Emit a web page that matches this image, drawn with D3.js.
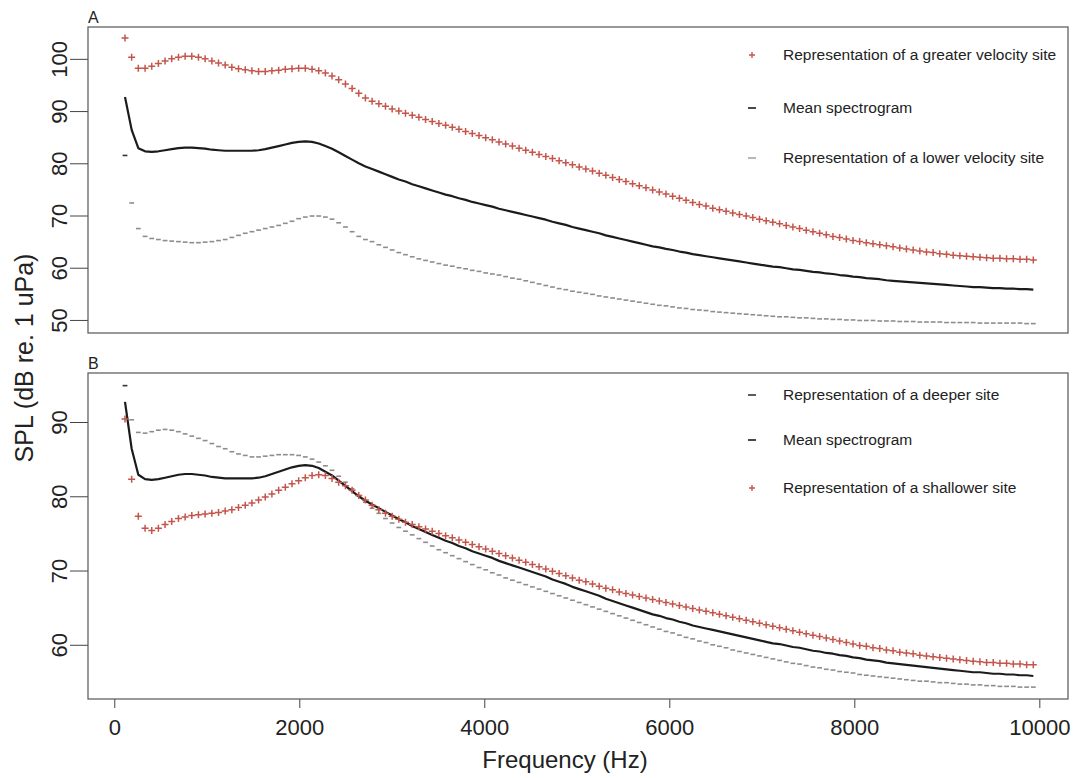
<!DOCTYPE html>
<html>
<head>
<meta charset="utf-8">
<script src="https://cdn.jsdelivr.net/npm/d3@7"></script>
<style>
  body { margin: 0; background: #fff; }
  svg { display: block; }
  text { font-family: "Liberation Sans", Arial, Helvetica, sans-serif; fill: #222; }
</style>
</head>
<body>
<svg id="chart" width="1078" height="778"></svg>
<script>
"use strict";

// frequency bins (Hz)
var freqHz = [116, 188, 260, 333, 405, 477, 549, 621, 694, 766,
    838, 910, 982, 1055, 1127, 1199, 1271, 1343, 1416, 1488,
    1560, 1632, 1704, 1777, 1849, 1921, 1993, 2065, 2138, 2210,
    2282, 2354, 2426, 2499, 2571, 2643, 2715, 2787, 2860, 2932,
    3004, 3076, 3148, 3221, 3293, 3365, 3437, 3509, 3582, 3654,
    3726, 3798, 3870, 3943, 4015, 4087, 4159, 4231, 4304, 4376,
    4448, 4520, 4592, 4665, 4737, 4809, 4881, 4953, 5026, 5098,
    5170, 5242, 5314, 5387, 5459, 5531, 5603, 5675, 5748, 5820,
    5892, 5964, 6036, 6109, 6181, 6253, 6325, 6397, 6470, 6542,
    6614, 6686, 6758, 6831, 6903, 6975, 7047, 7119, 7192, 7264,
    7336, 7408, 7480, 7553, 7625, 7697, 7769, 7841, 7914, 7986,
    8058, 8130, 8202, 8275, 8347, 8419, 8491, 8563, 8636, 8708,
    8780, 8852, 8924, 8997, 9069, 9141, 9213, 9285, 9358, 9430,
    9502, 9574, 9646, 9719, 9791, 9863, 9935];

var meanSpl = [92.7, 86.4, 82.9, 82.3, 82.2, 82.3, 82.5, 82.7, 82.9, 83.0,
    83.0, 82.9, 82.8, 82.6, 82.5, 82.4, 82.4, 82.4, 82.4, 82.4,
    82.5, 82.7, 83.0, 83.3, 83.6, 83.9, 84.1, 84.2, 84.1, 83.8,
    83.3, 82.8, 82.1, 81.4, 80.7, 80.0, 79.4, 78.9, 78.4, 77.9,
    77.4, 76.9, 76.5, 76.0, 75.6, 75.2, 74.8, 74.4, 74.0, 73.7,
    73.3, 73.0, 72.6, 72.3, 72.0, 71.7, 71.3, 71.0, 70.7, 70.4,
    70.1, 69.8, 69.5, 69.2, 68.8, 68.5, 68.2, 67.8, 67.5, 67.2,
    66.9, 66.6, 66.2, 65.9, 65.6, 65.3, 65.0, 64.7, 64.4, 64.1,
    63.9, 63.6, 63.4, 63.1, 62.9, 62.6, 62.4, 62.2, 62.0, 61.8,
    61.6, 61.4, 61.2, 61.0, 60.8, 60.6, 60.4, 60.2, 60.1, 59.9,
    59.7, 59.6, 59.4, 59.2, 59.1, 58.9, 58.8, 58.6, 58.5, 58.3,
    58.2, 58.0, 57.9, 57.8, 57.6, 57.5, 57.4, 57.3, 57.2, 57.1,
    57.0, 56.9, 56.8, 56.7, 56.6, 56.5, 56.4, 56.3, 56.3, 56.2,
    56.1, 56.1, 56.0, 56.0, 55.9, 55.9, 55.8];

var greaterVelocitySpl = [104.0, 100.3, 98.2, 98.2, 98.6, 99.1, 99.6, 100.0, 100.3, 100.5,
    100.5, 100.3, 100.0, 99.6, 99.2, 98.8, 98.4, 98.1, 97.9, 97.7,
    97.6, 97.6, 97.7, 97.8, 98.0, 98.1, 98.2, 98.2, 98.0, 97.7,
    97.3, 96.7, 96.0, 95.2, 94.3, 93.4, 92.5, 91.9, 91.4, 90.9,
    90.4, 90.0, 89.6, 89.2, 88.8, 88.4, 88.0, 87.6, 87.3, 86.9,
    86.5, 86.1, 85.7, 85.3, 84.9, 84.5, 84.1, 83.7, 83.3, 82.9,
    82.5, 82.1, 81.7, 81.3, 80.9, 80.5, 80.1, 79.7, 79.3, 78.9,
    78.5, 78.1, 77.7, 77.3, 76.9, 76.5, 76.1, 75.7, 75.3, 74.9,
    74.5, 74.1, 73.7, 73.3, 72.9, 72.5, 72.1, 71.8, 71.4, 71.1,
    70.8, 70.5, 70.2, 69.9, 69.6, 69.3, 69.0, 68.7, 68.4, 68.1,
    67.8, 67.5, 67.2, 66.9, 66.6, 66.3, 66.0, 65.8, 65.5, 65.2,
    65.0, 64.8, 64.6, 64.4, 64.2, 64.0, 63.8, 63.6, 63.4, 63.2,
    63.0, 62.9, 62.7, 62.6, 62.4, 62.3, 62.2, 62.1, 62.0, 61.9,
    61.8, 61.8, 61.7, 61.7, 61.6, 61.6, 61.5];

var lowerVelocitySpl = [81.5, 72.4, 67.5, 66.0, 65.6, 65.4, 65.2, 65.1, 65.0, 64.9,
    64.8, 64.8, 64.9, 65.0, 65.2, 65.4, 65.8, 66.2, 66.6, 66.9,
    67.2, 67.5, 67.8, 68.1, 68.5, 68.9, 69.4, 69.7, 69.9, 69.9,
    69.7, 69.3, 68.6, 67.8, 66.9, 66.0, 65.4, 65.0, 64.4, 63.9,
    63.4, 62.9, 62.5, 62.1, 61.7, 61.4, 61.1, 60.8, 60.5, 60.3,
    60.0, 59.8, 59.5, 59.3, 59.0, 58.8, 58.6, 58.3, 58.0, 57.8,
    57.5, 57.2, 56.9, 56.6, 56.3, 56.0, 55.8, 55.5, 55.3, 55.1,
    54.9, 54.6, 54.4, 54.2, 54.0, 53.8, 53.6, 53.4, 53.2, 53.0,
    52.8, 52.7, 52.5, 52.3, 52.2, 52.0, 51.9, 51.8, 51.6, 51.5,
    51.4, 51.3, 51.2, 51.1, 51.0, 50.9, 50.8, 50.7, 50.6, 50.6,
    50.5, 50.4, 50.4, 50.3, 50.2, 50.2, 50.1, 50.1, 50.0, 50.0,
    49.9, 49.9, 49.9, 49.8, 49.8, 49.8, 49.7, 49.7, 49.7, 49.6,
    49.6, 49.6, 49.6, 49.5, 49.5, 49.5, 49.5, 49.5, 49.4, 49.4,
    49.4, 49.4, 49.4, 49.4, 49.4, 49.3, 49.3];

var deeperSpl = [94.9, 90.3, 88.6, 88.5, 88.7, 88.9, 89.0, 88.9, 88.7, 88.4,
    88.1, 87.8, 87.5, 87.1, 86.7, 86.4, 86.0, 85.7, 85.5, 85.3,
    85.3, 85.4, 85.5, 85.6, 85.6, 85.6, 85.5, 85.3, 85.0, 84.6,
    84.1, 83.5, 82.7, 81.9, 81.0, 80.1, 79.2, 78.4, 77.7, 77.0,
    76.4, 75.8, 75.3, 74.8, 74.3, 73.8, 73.3, 72.8, 72.4, 72.0,
    71.6, 71.2, 70.8, 70.4, 70.1, 69.7, 69.4, 69.0, 68.7, 68.4,
    68.1, 67.8, 67.5, 67.2, 66.9, 66.6, 66.3, 66.0, 65.7, 65.4,
    65.1, 64.8, 64.5, 64.2, 63.9, 63.6, 63.3, 63.0, 62.7, 62.4,
    62.1, 61.8, 61.6, 61.3, 61.0, 60.8, 60.5, 60.3, 60.0, 59.8,
    59.6, 59.3, 59.1, 58.9, 58.7, 58.5, 58.3, 58.1, 57.9, 57.7,
    57.5, 57.4, 57.2, 57.0, 56.9, 56.7, 56.6, 56.4, 56.3, 56.2,
    56.0, 55.9, 55.8, 55.7, 55.6, 55.5, 55.4, 55.3, 55.2, 55.1,
    55.1, 55.0, 54.9, 54.9, 54.8, 54.7, 54.7, 54.6, 54.6, 54.5,
    54.5, 54.4, 54.4, 54.4, 54.3, 54.3, 54.3];

var shallowerSpl = [90.4, 82.3, 77.3, 75.7, 75.4, 75.7, 76.2, 76.6, 77.0, 77.2,
    77.4, 77.5, 77.6, 77.7, 77.8, 78.0, 78.2, 78.5, 78.8, 79.1,
    79.5, 79.9, 80.3, 80.8, 81.2, 81.7, 82.1, 82.5, 82.8, 82.9,
    82.8, 82.4, 81.9, 81.4, 80.8, 80.1, 79.5, 78.8, 78.2, 77.7,
    77.3, 76.9, 76.5, 76.2, 75.9, 75.6, 75.3, 75.0, 74.7, 74.4,
    74.1, 73.8, 73.5, 73.2, 72.9, 72.6, 72.3, 72.0, 71.7, 71.4,
    71.1, 70.8, 70.5, 70.2, 69.9, 69.6, 69.3, 69.0, 68.7, 68.5,
    68.2, 67.9, 67.6, 67.4, 67.1, 66.9, 66.7, 66.5, 66.3, 66.1,
    65.9, 65.7, 65.5, 65.3, 65.1, 64.9, 64.7, 64.5, 64.3, 64.1,
    63.9, 63.7, 63.5, 63.3, 63.1, 62.9, 62.7, 62.5, 62.3, 62.1,
    61.9, 61.7, 61.5, 61.3, 61.1, 60.9, 60.7, 60.5, 60.3, 60.1,
    59.9, 59.8, 59.6, 59.5, 59.3, 59.2, 59.0, 58.9, 58.8, 58.6,
    58.5, 58.4, 58.3, 58.2, 58.1, 58.0, 57.9, 57.8, 57.7, 57.6,
    57.6, 57.5, 57.5, 57.4, 57.4, 57.3, 57.3];

var xTicks = [0, 2000, 4000, 6000, 8000, 10000];
var yTicksA = [50, 60, 70, 80, 90, 100];
var yTicksB = [60, 70, 80, 90];
var legendA = ["Representation of a greater velocity site", "Mean spectrogram", "Representation of a lower velocity site"];
var legendB = ["Representation of a deeper site", "Mean spectrogram", "Representation of a shallower site"];

var RED = "#c4554b",
    GREY = "#8d8d8d",
    BLACK = "#1b1b1b";

var svg = d3.select("#chart"),
    left = 88,
    right = 1068;

var x = d3.scaleLinear().domain([-284, 10310]).range([left, right]);

var panels = [
    {
        label: "A", top: 27, bottom: 333, domain: [47.5, 106.1], ticks: yTicksA,
        series: [
            { values: lowerVelocitySpl, kind: "dash", color: GREY },
            { values: meanSpl, kind: "line", color: BLACK },
            { values: greaterVelocitySpl, kind: "plus", color: RED }
        ],
        legend: [
            { text: legendA[0], kind: "plus", color: RED, y: 55 },
            { text: legendA[1], kind: "dash", color: BLACK, y: 108 },
            { text: legendA[2], kind: "dash", color: "#a5a5a5", y: 158 }
        ]
    },
    {
        label: "B", top: 373, bottom: 699, domain: [52.7, 96.6], ticks: yTicksB,
        series: [
            { values: deeperSpl, kind: "dash", color: GREY },
            { values: meanSpl, kind: "line", color: BLACK },
            { values: shallowerSpl, kind: "plus", color: RED }
        ],
        legend: [
            { text: legendB[0], kind: "dash", color: "#333", y: 395 },
            { text: legendB[1], kind: "dash", color: BLACK, y: 440 },
            { text: legendB[2], kind: "plus", color: RED, y: 488 }
        ]
    }
];

panels.forEach(function (p, pi) {
    var y = d3.scaleLinear().domain(p.domain).range([p.bottom, p.top]),
        g = svg.append("g");

    // y axis, labels parallel to the axis
    var ya = g.append("g")
        .attr("transform", "translate(" + left + ",0)")
        .call(d3.axisLeft(y).tickValues(p.ticks).tickSize(18).tickFormat(d3.format("d")));
    ya.select(".domain").remove();
    ya.selectAll(".tick line").attr("stroke", "#444");
    ya.selectAll(".tick text")
        .attr("x", 0).attr("y", -21).attr("dy", 0)
        .attr("text-anchor", "middle")
        .attr("transform", "rotate(-90)")
        .style("font-size", "22px")
        .style("fill", "#222");

    if (pi === panels.length - 1) {
        var xa = g.append("g")
            .attr("transform", "translate(0," + p.bottom + ")")
            .call(d3.axisBottom(x).tickValues(xTicks).tickSize(9).tickPadding(11).tickFormat(d3.format("d")));
        xa.select(".domain").remove();
        xa.selectAll(".tick line").attr("stroke", "#444");
        xa.selectAll(".tick text").style("font-size", "22px").style("fill", "#222");
    }

    g.append("rect")
        .attr("x", left).attr("y", p.top)
        .attr("width", right - left).attr("height", p.bottom - p.top)
        .attr("fill", "none").attr("stroke", "#555").attr("stroke-width", 1.2);

    g.append("text")
        .attr("x", left).attr("y", p.top - 4)
        .style("font-size", "16px")
        .text(p.label);

    p.series.forEach(function (s) {
        if (s.kind === "line") {
            g.append("path")
                .datum(s.values)
                .attr("fill", "none")
                .attr("stroke", s.color)
                .attr("stroke-width", 2.2)
                .attr("stroke-linejoin", "round")
                .attr("d", d3.line()
                    .x(function (v, i) { return x(freqHz[i]); })
                    .y(function (v) { return y(v); }));
        } else if (s.kind === "dash") {
            g.append("g").selectAll("line")
                .data(s.values)
                .join("line")
                .attr("x1", function (v, i) { return x(freqHz[i]) - 2.4; })
                .attr("x2", function (v, i) { return x(freqHz[i]) + 2.4; })
                .attr("y1", function (v) { return y(v); })
                .attr("y2", function (v) { return y(v); })
                .attr("stroke", function (v, i) { return i === 0 ? "#333" : s.color; })
                .attr("stroke-width", 1.6);
        } else {
            g.append("g").selectAll("path")
                .data(s.values)
                .join("path")
                .attr("d", function (v, i) {
                    var cx = x(freqHz[i]), cy = y(v);
                    return "M" + (cx - 3.5) + "," + cy + "H" + (cx + 3.5) +
                        "M" + cx + "," + (cy - 3.5) + "V" + (cy + 3.5);
                })
                .attr("stroke", s.color)
                .attr("stroke-width", 1.5)
                .attr("fill", "none");
        }
    });

    var lg = g.append("g").selectAll("g")
        .data(p.legend)
        .join("g")
        .attr("transform", function (d) { return "translate(752," + d.y + ")"; });
    lg.append("path")
        .attr("d", function (d) {
            return d.kind === "plus" ? "M-3,0H3M0,-3V3" : "M-4,0H4";
        })
        .attr("stroke", function (d) { return d.color; })
        .attr("stroke-width", function (d) { return d.kind === "plus" ? 1.4 : 1.6; })
        .attr("fill", "none");
    lg.append("text")
        .attr("x", 31)
        .attr("dy", "0.35em")
        .style("font-size", "15.5px")
        .text(function (d) { return d.text; });
});

svg.append("text")
    .attr("transform", "translate(33,358) rotate(-90)")
    .attr("text-anchor", "middle")
    .style("font-size", "25px")
    .text("SPL (dB re. 1 uPa)");

svg.append("text")
    .attr("x", 565).attr("y", 768)
    .attr("text-anchor", "middle")
    .style("font-size", "24px")
    .text("Frequency (Hz)");
</script>
</body>
</html>
